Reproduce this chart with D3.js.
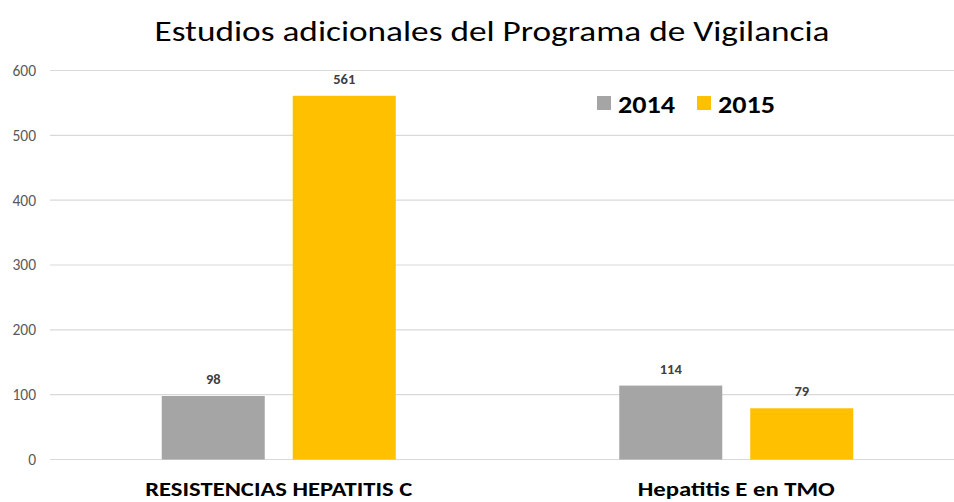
<!DOCTYPE html>
<html><head><meta charset="utf-8">
<script src="https://cdn.jsdelivr.net/npm/d3@7"></script>
<style>body{margin:0;background:#fff}svg{display:block}</style>
</head><body>
<script>
const categories = ["RESISTENCIAS HEPATITIS C", "Hepatitis E en TMO"];
const seriesNames = ["2014", "2015"];
const values2014 = [98, 114];
const values2015 = [561, 79];
const yTicks = [0, 100, 200, 300, 400, 500, 600];
const colors = ["#A5A5A5", "#FFC000"];
const title = "Estudios adicionales del Programa de Vigilancia";

const W = 954, H = 502;
const FONT = "Carlito, Lato, 'Open Sans', sans-serif";
const svg = d3.select("body").append("svg").attr("width", W).attr("height", H);

const x0 = d3.scaleBand().domain(categories).range([50, 965]).paddingInner(0).paddingOuter(0);
const y = d3.scaleLinear().domain([0, 600]).range([459.5, 70.5]);

// gridlines
svg.append("g").selectAll("line").data(yTicks).join("line")
  .attr("x1", 50).attr("x2", W).attr("y1", d => y(d)).attr("y2", d => y(d))
  .attr("stroke", "#D9D9D9").attr("stroke-width", 1.2);

// y axis labels
const yAxis = d3.axisLeft(y).tickValues(yTicks).tickSize(0).tickPadding(0);
const ga = svg.append("g").attr("transform", "translate(36,0)").call(yAxis);
ga.select(".domain").remove();
ga.selectAll("text").attr("font-family", FONT).attr("font-size", 15.5).attr("fill", "#595959");

// bars
const barW = 103, gap = 28;
const data = [];
categories.forEach((c, i) => {
  [values2014[i], values2015[i]].forEach((v, s) => data.push({c, s, v}));
});
const cx = c => x0(c) + x0.bandwidth() / 2;
const bx = d => cx(d.c) - (barW * 2 + gap) / 2 + d.s * (barW + gap);

svg.append("g").selectAll("rect").data(data).join("rect")
  .attr("x", d => bx(d)).attr("width", barW)
  .attr("y", d => y(d.v)).attr("height", d => y(0) - y(d.v))
  .attr("fill", d => colors[d.s]);

svg.append("g").selectAll("text").data(data).join("text")
  .attr("x", d => bx(d) + barW / 2).attr("y", d => y(d.v) - 12)
  .attr("text-anchor", "middle").attr("font-family", FONT).attr("font-weight", "bold")
  .attr("font-size", 14.5).attr("fill", "#404040").text(d => d.v);

// category labels
const catWidths = [267, 197];
svg.append("g").selectAll("text").data(categories).join("text")
  .attr("x", d => cx(d)).attr("y", 496).attr("text-anchor", "middle")
  .attr("font-family", FONT).attr("font-weight", "bold").attr("font-size", 20.5)
  .attr("fill", "#000").attr("textLength", (d, i) => catWidths[i]).attr("lengthAdjust", "spacingAndGlyphs")
  .text(d => d);

// title
svg.append("text").attr("x", 492).attr("y", 41).attr("text-anchor", "middle")
  .attr("font-family", FONT).attr("font-size", 29).attr("fill", "#000")
  .attr("textLength", 675).attr("lengthAdjust", "spacingAndGlyphs").text(title);

// legend
const legX = [597, 697];
const lg = svg.append("g").selectAll("g").data(seriesNames).join("g");
lg.append("rect").attr("x", (d, i) => legX[i]).attr("y", 96).attr("width", 14).attr("height", 14)
  .attr("fill", (d, i) => colors[i]);
lg.append("text").attr("x", (d, i) => legX[i] + 21).attr("y", 113)
  .attr("font-family", FONT).attr("font-weight", "bold").attr("font-size", 25).attr("fill", "#000")
  .attr("textLength", 57).attr("lengthAdjust", "spacingAndGlyphs").text(d => d);
</script>
</body></html>
